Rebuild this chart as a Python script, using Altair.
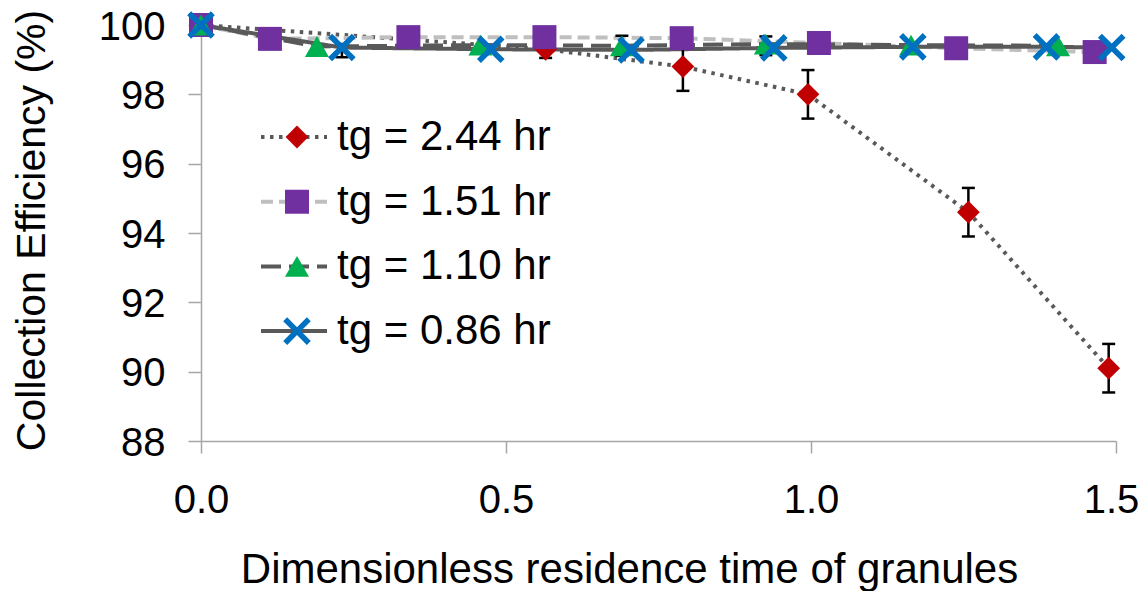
import altair as alt
import pandas as pd

# ---------------- data ----------------
series_names = ["tg = 2.44 hr", "tg = 1.51 hr", "tg = 1.10 hr", "tg = 0.86 hr"]

x_244 = [0.0, 0.565, 0.79, 0.995, 1.258, 1.488]
y_244 = [100.0, 99.3, 98.8, 98.0, 94.6, 90.1]

x_151 = [0.0, 0.113, 0.34, 0.563, 0.788, 1.013, 1.238, 1.465]
y_151 = [100.0, 99.6, 99.65, 99.65, 99.62, 99.48, 99.33, 99.22]

x_110 = [0.0, 0.19, 0.458, 0.69, 0.926, 1.164, 1.405]
y_110 = [100.0, 99.38, 99.42, 99.4, 99.45, 99.42, 99.4]

x_086 = [0.0, 0.231, 0.475, 0.705, 0.939, 1.167, 1.386, 1.493]
y_086 = [100.0, 99.35, 99.3, 99.28, 99.34, 99.37, 99.37, 99.35]

err_x = [0.231, 0.565, 0.69, 0.926, 0.79, 0.995, 1.258, 1.488]
err_mid = [99.26, 99.3, 99.4, 99.4, 98.8, 98.0, 94.6, 90.1]
err_half = [0.19, 0.25, 0.29, 0.27, 0.7, 0.7, 0.7, 0.7]

x_ticks = [0.0, 0.5, 1.0, 1.5]
y_ticks = [88, 90, 92, 94, 96, 98, 100]

# ---------------- styles ----------------
FONT = "Liberation Sans"
line_colors = ["#595959", "#BFBFBF", "#595959", "#595959"]
dashes = [[3.5, 5.5], [12, 6], [20, 8], [1, 0]]
marker_colors = ["#C00000", "#7030A0", "#00B050", "#0070C0"]
X_PATH = ("M-0.82,-1.15L0,-0.33L0.82,-1.15L1.15,-0.82L0.33,0L1.15,0.82"
          "L0.82,1.15L0,0.33L-0.82,1.15L-1.15,0.82L-0.33,0L-1.15,-0.82Z")
DIAMOND = "M0,-0.95L0.95,0L0,0.95L-0.95,0Z"
shapes = [DIAMOND, "square", "triangle-up", X_PATH]

rows = []
for name, xs, ys in zip(series_names, [x_244, x_151, x_110, x_086],
                        [y_244, y_151, y_110, y_086]):
    for a, b in zip(xs, ys):
        rows.append({"series": name, "series_m": name, "x": a, "y": b})
df = pd.DataFrame(rows)

err_df = pd.DataFrame({
    "x": err_x,
    "lo": [m - h for m, h in zip(err_mid, err_half)],
    "hi": [m + h for m, h in zip(err_mid, err_half)],
})

x_scale = alt.Scale(domain=[0, 1.5], nice=False, zero=False)
y_scale = alt.Scale(domain=[88, 100], nice=False, zero=False)

x_axis = alt.Axis(values=x_ticks, format=".1f", labelFlush=False,
                  labelOffset={"condition": {"test": "datum.value == 1.5", "value": -5},
                               "value": 0},
                  title="Dimensionless residence time of granules",
                  tickSize=12, labelPadding=27, titleFontSize=42,
                  titleX=428, titleY=141, titleBaseline="alphabetic")
y_axis = alt.Axis(values=y_ticks, format="d", labelFlush=False, labelOffset=2,
                  title="Collection Efficiency (%)", titleFontSize=41,
                  tickSize=13, labelPadding=23,
                  titleX=-169, titleY=205, titleBaseline="middle")

X = alt.X("x:Q", scale=x_scale, axis=x_axis)
Y = alt.Y("y:Q", scale=y_scale, axis=y_axis)

dash_legend = alt.Legend(title=None, orient="none", legendX=58, legendY=87,
                         padding=0, clipHeight=50, rowPadding=14.7,
                         symbolType="stroke", symbolSize=4356,
                         symbolStrokeWidth=4, labelLimit=500,
                         labelFont=FONT, labelFontSize=42, labelColor="black",
                         labelOffset=8)
mark_legend = alt.Legend(title=None, orient="none", legendX=75, legendY=87,
                         padding=0, clipHeight=50, rowPadding=14.7,
                         symbolSize=576, symbolOpacity=1, symbolStrokeWidth=0,
                         labelFont=FONT, labelFontSize=42, labelExpr="''")

lines = alt.Chart(df).mark_line(strokeWidth=4, strokeCap="butt").encode(
    x=X, y=Y,
    color=alt.Color("series:N", sort="descending",
                    scale=alt.Scale(range=line_colors), legend=dash_legend),
    strokeDash=alt.StrokeDash("series:N", sort="descending",
                              scale=alt.Scale(range=dashes), legend=dash_legend),
)

err_rule = alt.Chart(err_df).mark_rule(color="black", strokeWidth=2.5).encode(
    x=alt.X("x:Q", scale=x_scale, axis=x_axis),
    y=alt.Y("lo:Q", scale=y_scale, axis=y_axis),
    y2="hi:Q",
)
cap_lo = alt.Chart(err_df).mark_tick(color="black", thickness=2.5, size=13,
                                      orient="horizontal", opacity=1).encode(
    x=alt.X("x:Q", scale=x_scale, axis=x_axis),
    y=alt.Y("lo:Q", scale=y_scale, axis=y_axis),
)
cap_hi = alt.Chart(err_df).mark_tick(color="black", thickness=2.5, size=13,
                                      orient="horizontal", opacity=1).encode(
    x=alt.X("x:Q", scale=x_scale, axis=x_axis),
    y=alt.Y("hi:Q", scale=y_scale, axis=y_axis),
)

points = alt.Chart(df).mark_point(filled=True, size=576, opacity=1).encode(
    x=X, y=Y,
    fill=alt.Fill("series_m:N", sort="descending",
                  scale=alt.Scale(range=marker_colors), legend=mark_legend),
    shape=alt.Shape("series_m:N", sort="descending",
                    scale=alt.Scale(range=shapes), legend=mark_legend),
)

chart = alt.layer(lines, err_rule, cap_lo, cap_hi, points).properties(
    width=915, height=416,
    autosize=alt.AutoSizeParams(type="none"),
    padding={"left": 193, "top": 17, "right": 23, "bottom": 150},
).configure_view(stroke=None).configure_axis(
    grid=False, domainColor="#a6a6a6", tickColor="#a6a6a6",
    domainWidth=1.5, tickWidth=1.5,
    labelFont=FONT, labelFontSize=40, labelColor="black",
    titleFont=FONT, titleFontSize=40, titleFontWeight="normal",
    titleColor="black",
)

chart.save("out.html", embed_options={"renderer": "svg", "actions": False})
